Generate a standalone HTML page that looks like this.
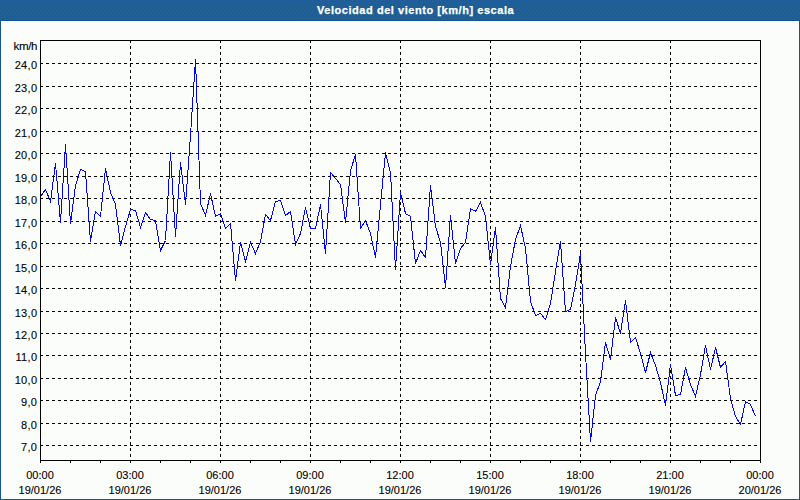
<!DOCTYPE html>
<html><head><meta charset="utf-8"><style>
html,body{margin:0;padding:0;}
body{-webkit-text-stroke:0.1px #000;width:800px;height:500px;position:relative;overflow:hidden;background:#14568e;font-family:"Liberation Sans",sans-serif;}
#tb{position:absolute;left:0;top:0;width:800px;height:21px;background:#1e5e93;}
#title{position:absolute;left:317px;top:3px;font-size:11px;font-weight:bold;color:#fff;-webkit-text-stroke:0.25px #fff;white-space:nowrap;line-height:14px;letter-spacing:0.55px;}
#pane{position:absolute;left:1px;top:21px;width:798px;height:478px;background:#fbfdfb;}
.yl{position:absolute;left:0;width:37.3px;letter-spacing:0.3px;text-align:right;font-size:11px;line-height:14px;color:#000;white-space:nowrap;}
.xl{position:absolute;top:468px;width:80px;text-align:center;font-size:11px;line-height:15px;color:#000;white-space:nowrap;}
#unit{position:absolute;left:13.6px;top:38.6px;font-size:11.6px;letter-spacing:-0.45px;line-height:14px;color:#000;}
svg{position:absolute;left:0;top:0;}
</style></head><body>
<div id="tb"><svg width="800" height="21" style="position:absolute;left:0;top:0"><defs><pattern id="dp" width="8" height="21" patternUnits="userSpaceOnUse"><g fill="#2860b6"><rect x="0" y="0" width="1" height="1"/><rect x="4" y="1" width="1" height="1"/><rect x="6" y="2" width="1" height="1"/><rect x="1" y="2" width="1" height="1"/><rect x="3" y="4" width="1" height="1"/><rect x="5" y="5" width="1" height="1"/><rect x="0" y="5" width="1" height="1"/><rect x="3" y="7" width="1" height="1"/><rect x="7" y="8" width="1" height="1"/><rect x="5" y="9" width="1" height="1"/><rect x="1" y="9" width="1" height="1"/><rect x="4" y="11" width="1" height="1"/><rect x="0" y="11" width="1" height="1"/><rect x="6" y="13" width="1" height="1"/><rect x="2" y="13" width="1" height="1"/><rect x="5" y="15" width="1" height="1"/><rect x="1" y="15" width="1" height="1"/><rect x="4" y="17" width="1" height="1"/><rect x="0" y="17" width="1" height="1"/><rect x="6" y="19" width="1" height="1"/><rect x="2" y="19" width="1" height="1"/></g></pattern></defs><rect width="800" height="20" fill="url(#dp)"/><rect y="20" width="800" height="1" fill="#125590"/></svg><div id="title">Velocidad del viento [km/h] escala</div></div>
<div id="pane"></div>
<svg width="800" height="500" viewBox="0 0 800 500">
<path d="M40 63.5H43M46 63.5H49M52 63.5H55M58 63.5H61M64 63.5H67M70 63.5H73M76 63.5H79M82 63.5H85M88 63.5H91M94 63.5H97M100 63.5H103M106 63.5H109M112 63.5H115M118 63.5H121M124 63.5H127M130 63.5H133M136 63.5H139M142 63.5H145M148 63.5H151M154 63.5H157M160 63.5H163M166 63.5H169M172 63.5H175M178 63.5H181M184 63.5H187M190 63.5H193M196 63.5H199M202 63.5H205M208 63.5H211M214 63.5H217M220 63.5H223M226 63.5H229M232 63.5H235M238 63.5H241M244 63.5H247M250 63.5H253M256 63.5H259M262 63.5H265M268 63.5H271M274 63.5H277M280 63.5H283M286 63.5H289M292 63.5H295M298 63.5H301M304 63.5H307M310 63.5H313M316 63.5H319M322 63.5H325M328 63.5H331M334 63.5H337M340 63.5H343M346 63.5H349M352 63.5H355M358 63.5H361M364 63.5H367M370 63.5H373M376 63.5H379M382 63.5H385M388 63.5H391M394 63.5H397M400 63.5H403M406 63.5H409M412 63.5H415M418 63.5H421M424 63.5H427M430 63.5H433M436 63.5H439M442 63.5H445M448 63.5H451M454 63.5H457M460 63.5H463M466 63.5H469M472 63.5H475M478 63.5H481M484 63.5H487M490 63.5H493M496 63.5H499M502 63.5H505M508 63.5H511M514 63.5H517M520 63.5H523M526 63.5H529M532 63.5H535M538 63.5H541M544 63.5H547M550 63.5H553M556 63.5H559M562 63.5H565M568 63.5H571M574 63.5H577M580 63.5H583M586 63.5H589M592 63.5H595M598 63.5H601M604 63.5H607M610 63.5H613M616 63.5H619M622 63.5H625M628 63.5H631M634 63.5H637M640 63.5H643M646 63.5H649M652 63.5H655M658 63.5H661M664 63.5H667M670 63.5H673M676 63.5H679M682 63.5H685M688 63.5H691M694 63.5H697M700 63.5H703M706 63.5H709M712 63.5H715M718 63.5H721M724 63.5H727M730 63.5H733M736 63.5H739M742 63.5H745M748 63.5H751M754 63.5H757M40 86.5H43M46 86.5H49M52 86.5H55M58 86.5H61M64 86.5H67M70 86.5H73M76 86.5H79M82 86.5H85M88 86.5H91M94 86.5H97M100 86.5H103M106 86.5H109M112 86.5H115M118 86.5H121M124 86.5H127M130 86.5H133M136 86.5H139M142 86.5H145M148 86.5H151M154 86.5H157M160 86.5H163M166 86.5H169M172 86.5H175M178 86.5H181M184 86.5H187M190 86.5H193M196 86.5H199M202 86.5H205M208 86.5H211M214 86.5H217M220 86.5H223M226 86.5H229M232 86.5H235M238 86.5H241M244 86.5H247M250 86.5H253M256 86.5H259M262 86.5H265M268 86.5H271M274 86.5H277M280 86.5H283M286 86.5H289M292 86.5H295M298 86.5H301M304 86.5H307M310 86.5H313M316 86.5H319M322 86.5H325M328 86.5H331M334 86.5H337M340 86.5H343M346 86.5H349M352 86.5H355M358 86.5H361M364 86.5H367M370 86.5H373M376 86.5H379M382 86.5H385M388 86.5H391M394 86.5H397M400 86.5H403M406 86.5H409M412 86.5H415M418 86.5H421M424 86.5H427M430 86.5H433M436 86.5H439M442 86.5H445M448 86.5H451M454 86.5H457M460 86.5H463M466 86.5H469M472 86.5H475M478 86.5H481M484 86.5H487M490 86.5H493M496 86.5H499M502 86.5H505M508 86.5H511M514 86.5H517M520 86.5H523M526 86.5H529M532 86.5H535M538 86.5H541M544 86.5H547M550 86.5H553M556 86.5H559M562 86.5H565M568 86.5H571M574 86.5H577M580 86.5H583M586 86.5H589M592 86.5H595M598 86.5H601M604 86.5H607M610 86.5H613M616 86.5H619M622 86.5H625M628 86.5H631M634 86.5H637M640 86.5H643M646 86.5H649M652 86.5H655M658 86.5H661M664 86.5H667M670 86.5H673M676 86.5H679M682 86.5H685M688 86.5H691M694 86.5H697M700 86.5H703M706 86.5H709M712 86.5H715M718 86.5H721M724 86.5H727M730 86.5H733M736 86.5H739M742 86.5H745M748 86.5H751M754 86.5H757M40 108.5H43M46 108.5H49M52 108.5H55M58 108.5H61M64 108.5H67M70 108.5H73M76 108.5H79M82 108.5H85M88 108.5H91M94 108.5H97M100 108.5H103M106 108.5H109M112 108.5H115M118 108.5H121M124 108.5H127M130 108.5H133M136 108.5H139M142 108.5H145M148 108.5H151M154 108.5H157M160 108.5H163M166 108.5H169M172 108.5H175M178 108.5H181M184 108.5H187M190 108.5H193M196 108.5H199M202 108.5H205M208 108.5H211M214 108.5H217M220 108.5H223M226 108.5H229M232 108.5H235M238 108.5H241M244 108.5H247M250 108.5H253M256 108.5H259M262 108.5H265M268 108.5H271M274 108.5H277M280 108.5H283M286 108.5H289M292 108.5H295M298 108.5H301M304 108.5H307M310 108.5H313M316 108.5H319M322 108.5H325M328 108.5H331M334 108.5H337M340 108.5H343M346 108.5H349M352 108.5H355M358 108.5H361M364 108.5H367M370 108.5H373M376 108.5H379M382 108.5H385M388 108.5H391M394 108.5H397M400 108.5H403M406 108.5H409M412 108.5H415M418 108.5H421M424 108.5H427M430 108.5H433M436 108.5H439M442 108.5H445M448 108.5H451M454 108.5H457M460 108.5H463M466 108.5H469M472 108.5H475M478 108.5H481M484 108.5H487M490 108.5H493M496 108.5H499M502 108.5H505M508 108.5H511M514 108.5H517M520 108.5H523M526 108.5H529M532 108.5H535M538 108.5H541M544 108.5H547M550 108.5H553M556 108.5H559M562 108.5H565M568 108.5H571M574 108.5H577M580 108.5H583M586 108.5H589M592 108.5H595M598 108.5H601M604 108.5H607M610 108.5H613M616 108.5H619M622 108.5H625M628 108.5H631M634 108.5H637M640 108.5H643M646 108.5H649M652 108.5H655M658 108.5H661M664 108.5H667M670 108.5H673M676 108.5H679M682 108.5H685M688 108.5H691M694 108.5H697M700 108.5H703M706 108.5H709M712 108.5H715M718 108.5H721M724 108.5H727M730 108.5H733M736 108.5H739M742 108.5H745M748 108.5H751M754 108.5H757M40 131.5H43M46 131.5H49M52 131.5H55M58 131.5H61M64 131.5H67M70 131.5H73M76 131.5H79M82 131.5H85M88 131.5H91M94 131.5H97M100 131.5H103M106 131.5H109M112 131.5H115M118 131.5H121M124 131.5H127M130 131.5H133M136 131.5H139M142 131.5H145M148 131.5H151M154 131.5H157M160 131.5H163M166 131.5H169M172 131.5H175M178 131.5H181M184 131.5H187M190 131.5H193M196 131.5H199M202 131.5H205M208 131.5H211M214 131.5H217M220 131.5H223M226 131.5H229M232 131.5H235M238 131.5H241M244 131.5H247M250 131.5H253M256 131.5H259M262 131.5H265M268 131.5H271M274 131.5H277M280 131.5H283M286 131.5H289M292 131.5H295M298 131.5H301M304 131.5H307M310 131.5H313M316 131.5H319M322 131.5H325M328 131.5H331M334 131.5H337M340 131.5H343M346 131.5H349M352 131.5H355M358 131.5H361M364 131.5H367M370 131.5H373M376 131.5H379M382 131.5H385M388 131.5H391M394 131.5H397M400 131.5H403M406 131.5H409M412 131.5H415M418 131.5H421M424 131.5H427M430 131.5H433M436 131.5H439M442 131.5H445M448 131.5H451M454 131.5H457M460 131.5H463M466 131.5H469M472 131.5H475M478 131.5H481M484 131.5H487M490 131.5H493M496 131.5H499M502 131.5H505M508 131.5H511M514 131.5H517M520 131.5H523M526 131.5H529M532 131.5H535M538 131.5H541M544 131.5H547M550 131.5H553M556 131.5H559M562 131.5H565M568 131.5H571M574 131.5H577M580 131.5H583M586 131.5H589M592 131.5H595M598 131.5H601M604 131.5H607M610 131.5H613M616 131.5H619M622 131.5H625M628 131.5H631M634 131.5H637M640 131.5H643M646 131.5H649M652 131.5H655M658 131.5H661M664 131.5H667M670 131.5H673M676 131.5H679M682 131.5H685M688 131.5H691M694 131.5H697M700 131.5H703M706 131.5H709M712 131.5H715M718 131.5H721M724 131.5H727M730 131.5H733M736 131.5H739M742 131.5H745M748 131.5H751M754 131.5H757M40 153.5H43M46 153.5H49M52 153.5H55M58 153.5H61M64 153.5H67M70 153.5H73M76 153.5H79M82 153.5H85M88 153.5H91M94 153.5H97M100 153.5H103M106 153.5H109M112 153.5H115M118 153.5H121M124 153.5H127M130 153.5H133M136 153.5H139M142 153.5H145M148 153.5H151M154 153.5H157M160 153.5H163M166 153.5H169M172 153.5H175M178 153.5H181M184 153.5H187M190 153.5H193M196 153.5H199M202 153.5H205M208 153.5H211M214 153.5H217M220 153.5H223M226 153.5H229M232 153.5H235M238 153.5H241M244 153.5H247M250 153.5H253M256 153.5H259M262 153.5H265M268 153.5H271M274 153.5H277M280 153.5H283M286 153.5H289M292 153.5H295M298 153.5H301M304 153.5H307M310 153.5H313M316 153.5H319M322 153.5H325M328 153.5H331M334 153.5H337M340 153.5H343M346 153.5H349M352 153.5H355M358 153.5H361M364 153.5H367M370 153.5H373M376 153.5H379M382 153.5H385M388 153.5H391M394 153.5H397M400 153.5H403M406 153.5H409M412 153.5H415M418 153.5H421M424 153.5H427M430 153.5H433M436 153.5H439M442 153.5H445M448 153.5H451M454 153.5H457M460 153.5H463M466 153.5H469M472 153.5H475M478 153.5H481M484 153.5H487M490 153.5H493M496 153.5H499M502 153.5H505M508 153.5H511M514 153.5H517M520 153.5H523M526 153.5H529M532 153.5H535M538 153.5H541M544 153.5H547M550 153.5H553M556 153.5H559M562 153.5H565M568 153.5H571M574 153.5H577M580 153.5H583M586 153.5H589M592 153.5H595M598 153.5H601M604 153.5H607M610 153.5H613M616 153.5H619M622 153.5H625M628 153.5H631M634 153.5H637M640 153.5H643M646 153.5H649M652 153.5H655M658 153.5H661M664 153.5H667M670 153.5H673M676 153.5H679M682 153.5H685M688 153.5H691M694 153.5H697M700 153.5H703M706 153.5H709M712 153.5H715M718 153.5H721M724 153.5H727M730 153.5H733M736 153.5H739M742 153.5H745M748 153.5H751M754 153.5H757M40 176.5H43M46 176.5H49M52 176.5H55M58 176.5H61M64 176.5H67M70 176.5H73M76 176.5H79M82 176.5H85M88 176.5H91M94 176.5H97M100 176.5H103M106 176.5H109M112 176.5H115M118 176.5H121M124 176.5H127M130 176.5H133M136 176.5H139M142 176.5H145M148 176.5H151M154 176.5H157M160 176.5H163M166 176.5H169M172 176.5H175M178 176.5H181M184 176.5H187M190 176.5H193M196 176.5H199M202 176.5H205M208 176.5H211M214 176.5H217M220 176.5H223M226 176.5H229M232 176.5H235M238 176.5H241M244 176.5H247M250 176.5H253M256 176.5H259M262 176.5H265M268 176.5H271M274 176.5H277M280 176.5H283M286 176.5H289M292 176.5H295M298 176.5H301M304 176.5H307M310 176.5H313M316 176.5H319M322 176.5H325M328 176.5H331M334 176.5H337M340 176.5H343M346 176.5H349M352 176.5H355M358 176.5H361M364 176.5H367M370 176.5H373M376 176.5H379M382 176.5H385M388 176.5H391M394 176.5H397M400 176.5H403M406 176.5H409M412 176.5H415M418 176.5H421M424 176.5H427M430 176.5H433M436 176.5H439M442 176.5H445M448 176.5H451M454 176.5H457M460 176.5H463M466 176.5H469M472 176.5H475M478 176.5H481M484 176.5H487M490 176.5H493M496 176.5H499M502 176.5H505M508 176.5H511M514 176.5H517M520 176.5H523M526 176.5H529M532 176.5H535M538 176.5H541M544 176.5H547M550 176.5H553M556 176.5H559M562 176.5H565M568 176.5H571M574 176.5H577M580 176.5H583M586 176.5H589M592 176.5H595M598 176.5H601M604 176.5H607M610 176.5H613M616 176.5H619M622 176.5H625M628 176.5H631M634 176.5H637M640 176.5H643M646 176.5H649M652 176.5H655M658 176.5H661M664 176.5H667M670 176.5H673M676 176.5H679M682 176.5H685M688 176.5H691M694 176.5H697M700 176.5H703M706 176.5H709M712 176.5H715M718 176.5H721M724 176.5H727M730 176.5H733M736 176.5H739M742 176.5H745M748 176.5H751M754 176.5H757M40 198.5H43M46 198.5H49M52 198.5H55M58 198.5H61M64 198.5H67M70 198.5H73M76 198.5H79M82 198.5H85M88 198.5H91M94 198.5H97M100 198.5H103M106 198.5H109M112 198.5H115M118 198.5H121M124 198.5H127M130 198.5H133M136 198.5H139M142 198.5H145M148 198.5H151M154 198.5H157M160 198.5H163M166 198.5H169M172 198.5H175M178 198.5H181M184 198.5H187M190 198.5H193M196 198.5H199M202 198.5H205M208 198.5H211M214 198.5H217M220 198.5H223M226 198.5H229M232 198.5H235M238 198.5H241M244 198.5H247M250 198.5H253M256 198.5H259M262 198.5H265M268 198.5H271M274 198.5H277M280 198.5H283M286 198.5H289M292 198.5H295M298 198.5H301M304 198.5H307M310 198.5H313M316 198.5H319M322 198.5H325M328 198.5H331M334 198.5H337M340 198.5H343M346 198.5H349M352 198.5H355M358 198.5H361M364 198.5H367M370 198.5H373M376 198.5H379M382 198.5H385M388 198.5H391M394 198.5H397M400 198.5H403M406 198.5H409M412 198.5H415M418 198.5H421M424 198.5H427M430 198.5H433M436 198.5H439M442 198.5H445M448 198.5H451M454 198.5H457M460 198.5H463M466 198.5H469M472 198.5H475M478 198.5H481M484 198.5H487M490 198.5H493M496 198.5H499M502 198.5H505M508 198.5H511M514 198.5H517M520 198.5H523M526 198.5H529M532 198.5H535M538 198.5H541M544 198.5H547M550 198.5H553M556 198.5H559M562 198.5H565M568 198.5H571M574 198.5H577M580 198.5H583M586 198.5H589M592 198.5H595M598 198.5H601M604 198.5H607M610 198.5H613M616 198.5H619M622 198.5H625M628 198.5H631M634 198.5H637M640 198.5H643M646 198.5H649M652 198.5H655M658 198.5H661M664 198.5H667M670 198.5H673M676 198.5H679M682 198.5H685M688 198.5H691M694 198.5H697M700 198.5H703M706 198.5H709M712 198.5H715M718 198.5H721M724 198.5H727M730 198.5H733M736 198.5H739M742 198.5H745M748 198.5H751M754 198.5H757M40 221.5H43M46 221.5H49M52 221.5H55M58 221.5H61M64 221.5H67M70 221.5H73M76 221.5H79M82 221.5H85M88 221.5H91M94 221.5H97M100 221.5H103M106 221.5H109M112 221.5H115M118 221.5H121M124 221.5H127M130 221.5H133M136 221.5H139M142 221.5H145M148 221.5H151M154 221.5H157M160 221.5H163M166 221.5H169M172 221.5H175M178 221.5H181M184 221.5H187M190 221.5H193M196 221.5H199M202 221.5H205M208 221.5H211M214 221.5H217M220 221.5H223M226 221.5H229M232 221.5H235M238 221.5H241M244 221.5H247M250 221.5H253M256 221.5H259M262 221.5H265M268 221.5H271M274 221.5H277M280 221.5H283M286 221.5H289M292 221.5H295M298 221.5H301M304 221.5H307M310 221.5H313M316 221.5H319M322 221.5H325M328 221.5H331M334 221.5H337M340 221.5H343M346 221.5H349M352 221.5H355M358 221.5H361M364 221.5H367M370 221.5H373M376 221.5H379M382 221.5H385M388 221.5H391M394 221.5H397M400 221.5H403M406 221.5H409M412 221.5H415M418 221.5H421M424 221.5H427M430 221.5H433M436 221.5H439M442 221.5H445M448 221.5H451M454 221.5H457M460 221.5H463M466 221.5H469M472 221.5H475M478 221.5H481M484 221.5H487M490 221.5H493M496 221.5H499M502 221.5H505M508 221.5H511M514 221.5H517M520 221.5H523M526 221.5H529M532 221.5H535M538 221.5H541M544 221.5H547M550 221.5H553M556 221.5H559M562 221.5H565M568 221.5H571M574 221.5H577M580 221.5H583M586 221.5H589M592 221.5H595M598 221.5H601M604 221.5H607M610 221.5H613M616 221.5H619M622 221.5H625M628 221.5H631M634 221.5H637M640 221.5H643M646 221.5H649M652 221.5H655M658 221.5H661M664 221.5H667M670 221.5H673M676 221.5H679M682 221.5H685M688 221.5H691M694 221.5H697M700 221.5H703M706 221.5H709M712 221.5H715M718 221.5H721M724 221.5H727M730 221.5H733M736 221.5H739M742 221.5H745M748 221.5H751M754 221.5H757M40 243.5H43M46 243.5H49M52 243.5H55M58 243.5H61M64 243.5H67M70 243.5H73M76 243.5H79M82 243.5H85M88 243.5H91M94 243.5H97M100 243.5H103M106 243.5H109M112 243.5H115M118 243.5H121M124 243.5H127M130 243.5H133M136 243.5H139M142 243.5H145M148 243.5H151M154 243.5H157M160 243.5H163M166 243.5H169M172 243.5H175M178 243.5H181M184 243.5H187M190 243.5H193M196 243.5H199M202 243.5H205M208 243.5H211M214 243.5H217M220 243.5H223M226 243.5H229M232 243.5H235M238 243.5H241M244 243.5H247M250 243.5H253M256 243.5H259M262 243.5H265M268 243.5H271M274 243.5H277M280 243.5H283M286 243.5H289M292 243.5H295M298 243.5H301M304 243.5H307M310 243.5H313M316 243.5H319M322 243.5H325M328 243.5H331M334 243.5H337M340 243.5H343M346 243.5H349M352 243.5H355M358 243.5H361M364 243.5H367M370 243.5H373M376 243.5H379M382 243.5H385M388 243.5H391M394 243.5H397M400 243.5H403M406 243.5H409M412 243.5H415M418 243.5H421M424 243.5H427M430 243.5H433M436 243.5H439M442 243.5H445M448 243.5H451M454 243.5H457M460 243.5H463M466 243.5H469M472 243.5H475M478 243.5H481M484 243.5H487M490 243.5H493M496 243.5H499M502 243.5H505M508 243.5H511M514 243.5H517M520 243.5H523M526 243.5H529M532 243.5H535M538 243.5H541M544 243.5H547M550 243.5H553M556 243.5H559M562 243.5H565M568 243.5H571M574 243.5H577M580 243.5H583M586 243.5H589M592 243.5H595M598 243.5H601M604 243.5H607M610 243.5H613M616 243.5H619M622 243.5H625M628 243.5H631M634 243.5H637M640 243.5H643M646 243.5H649M652 243.5H655M658 243.5H661M664 243.5H667M670 243.5H673M676 243.5H679M682 243.5H685M688 243.5H691M694 243.5H697M700 243.5H703M706 243.5H709M712 243.5H715M718 243.5H721M724 243.5H727M730 243.5H733M736 243.5H739M742 243.5H745M748 243.5H751M754 243.5H757M40 266.5H43M46 266.5H49M52 266.5H55M58 266.5H61M64 266.5H67M70 266.5H73M76 266.5H79M82 266.5H85M88 266.5H91M94 266.5H97M100 266.5H103M106 266.5H109M112 266.5H115M118 266.5H121M124 266.5H127M130 266.5H133M136 266.5H139M142 266.5H145M148 266.5H151M154 266.5H157M160 266.5H163M166 266.5H169M172 266.5H175M178 266.5H181M184 266.5H187M190 266.5H193M196 266.5H199M202 266.5H205M208 266.5H211M214 266.5H217M220 266.5H223M226 266.5H229M232 266.5H235M238 266.5H241M244 266.5H247M250 266.5H253M256 266.5H259M262 266.5H265M268 266.5H271M274 266.5H277M280 266.5H283M286 266.5H289M292 266.5H295M298 266.5H301M304 266.5H307M310 266.5H313M316 266.5H319M322 266.5H325M328 266.5H331M334 266.5H337M340 266.5H343M346 266.5H349M352 266.5H355M358 266.5H361M364 266.5H367M370 266.5H373M376 266.5H379M382 266.5H385M388 266.5H391M394 266.5H397M400 266.5H403M406 266.5H409M412 266.5H415M418 266.5H421M424 266.5H427M430 266.5H433M436 266.5H439M442 266.5H445M448 266.5H451M454 266.5H457M460 266.5H463M466 266.5H469M472 266.5H475M478 266.5H481M484 266.5H487M490 266.5H493M496 266.5H499M502 266.5H505M508 266.5H511M514 266.5H517M520 266.5H523M526 266.5H529M532 266.5H535M538 266.5H541M544 266.5H547M550 266.5H553M556 266.5H559M562 266.5H565M568 266.5H571M574 266.5H577M580 266.5H583M586 266.5H589M592 266.5H595M598 266.5H601M604 266.5H607M610 266.5H613M616 266.5H619M622 266.5H625M628 266.5H631M634 266.5H637M640 266.5H643M646 266.5H649M652 266.5H655M658 266.5H661M664 266.5H667M670 266.5H673M676 266.5H679M682 266.5H685M688 266.5H691M694 266.5H697M700 266.5H703M706 266.5H709M712 266.5H715M718 266.5H721M724 266.5H727M730 266.5H733M736 266.5H739M742 266.5H745M748 266.5H751M754 266.5H757M40 288.5H43M46 288.5H49M52 288.5H55M58 288.5H61M64 288.5H67M70 288.5H73M76 288.5H79M82 288.5H85M88 288.5H91M94 288.5H97M100 288.5H103M106 288.5H109M112 288.5H115M118 288.5H121M124 288.5H127M130 288.5H133M136 288.5H139M142 288.5H145M148 288.5H151M154 288.5H157M160 288.5H163M166 288.5H169M172 288.5H175M178 288.5H181M184 288.5H187M190 288.5H193M196 288.5H199M202 288.5H205M208 288.5H211M214 288.5H217M220 288.5H223M226 288.5H229M232 288.5H235M238 288.5H241M244 288.5H247M250 288.5H253M256 288.5H259M262 288.5H265M268 288.5H271M274 288.5H277M280 288.5H283M286 288.5H289M292 288.5H295M298 288.5H301M304 288.5H307M310 288.5H313M316 288.5H319M322 288.5H325M328 288.5H331M334 288.5H337M340 288.5H343M346 288.5H349M352 288.5H355M358 288.5H361M364 288.5H367M370 288.5H373M376 288.5H379M382 288.5H385M388 288.5H391M394 288.5H397M400 288.5H403M406 288.5H409M412 288.5H415M418 288.5H421M424 288.5H427M430 288.5H433M436 288.5H439M442 288.5H445M448 288.5H451M454 288.5H457M460 288.5H463M466 288.5H469M472 288.5H475M478 288.5H481M484 288.5H487M490 288.5H493M496 288.5H499M502 288.5H505M508 288.5H511M514 288.5H517M520 288.5H523M526 288.5H529M532 288.5H535M538 288.5H541M544 288.5H547M550 288.5H553M556 288.5H559M562 288.5H565M568 288.5H571M574 288.5H577M580 288.5H583M586 288.5H589M592 288.5H595M598 288.5H601M604 288.5H607M610 288.5H613M616 288.5H619M622 288.5H625M628 288.5H631M634 288.5H637M640 288.5H643M646 288.5H649M652 288.5H655M658 288.5H661M664 288.5H667M670 288.5H673M676 288.5H679M682 288.5H685M688 288.5H691M694 288.5H697M700 288.5H703M706 288.5H709M712 288.5H715M718 288.5H721M724 288.5H727M730 288.5H733M736 288.5H739M742 288.5H745M748 288.5H751M754 288.5H757M40 311.5H43M46 311.5H49M52 311.5H55M58 311.5H61M64 311.5H67M70 311.5H73M76 311.5H79M82 311.5H85M88 311.5H91M94 311.5H97M100 311.5H103M106 311.5H109M112 311.5H115M118 311.5H121M124 311.5H127M130 311.5H133M136 311.5H139M142 311.5H145M148 311.5H151M154 311.5H157M160 311.5H163M166 311.5H169M172 311.5H175M178 311.5H181M184 311.5H187M190 311.5H193M196 311.5H199M202 311.5H205M208 311.5H211M214 311.5H217M220 311.5H223M226 311.5H229M232 311.5H235M238 311.5H241M244 311.5H247M250 311.5H253M256 311.5H259M262 311.5H265M268 311.5H271M274 311.5H277M280 311.5H283M286 311.5H289M292 311.5H295M298 311.5H301M304 311.5H307M310 311.5H313M316 311.5H319M322 311.5H325M328 311.5H331M334 311.5H337M340 311.5H343M346 311.5H349M352 311.5H355M358 311.5H361M364 311.5H367M370 311.5H373M376 311.5H379M382 311.5H385M388 311.5H391M394 311.5H397M400 311.5H403M406 311.5H409M412 311.5H415M418 311.5H421M424 311.5H427M430 311.5H433M436 311.5H439M442 311.5H445M448 311.5H451M454 311.5H457M460 311.5H463M466 311.5H469M472 311.5H475M478 311.5H481M484 311.5H487M490 311.5H493M496 311.5H499M502 311.5H505M508 311.5H511M514 311.5H517M520 311.5H523M526 311.5H529M532 311.5H535M538 311.5H541M544 311.5H547M550 311.5H553M556 311.5H559M562 311.5H565M568 311.5H571M574 311.5H577M580 311.5H583M586 311.5H589M592 311.5H595M598 311.5H601M604 311.5H607M610 311.5H613M616 311.5H619M622 311.5H625M628 311.5H631M634 311.5H637M640 311.5H643M646 311.5H649M652 311.5H655M658 311.5H661M664 311.5H667M670 311.5H673M676 311.5H679M682 311.5H685M688 311.5H691M694 311.5H697M700 311.5H703M706 311.5H709M712 311.5H715M718 311.5H721M724 311.5H727M730 311.5H733M736 311.5H739M742 311.5H745M748 311.5H751M754 311.5H757M40 333.5H43M46 333.5H49M52 333.5H55M58 333.5H61M64 333.5H67M70 333.5H73M76 333.5H79M82 333.5H85M88 333.5H91M94 333.5H97M100 333.5H103M106 333.5H109M112 333.5H115M118 333.5H121M124 333.5H127M130 333.5H133M136 333.5H139M142 333.5H145M148 333.5H151M154 333.5H157M160 333.5H163M166 333.5H169M172 333.5H175M178 333.5H181M184 333.5H187M190 333.5H193M196 333.5H199M202 333.5H205M208 333.5H211M214 333.5H217M220 333.5H223M226 333.5H229M232 333.5H235M238 333.5H241M244 333.5H247M250 333.5H253M256 333.5H259M262 333.5H265M268 333.5H271M274 333.5H277M280 333.5H283M286 333.5H289M292 333.5H295M298 333.5H301M304 333.5H307M310 333.5H313M316 333.5H319M322 333.5H325M328 333.5H331M334 333.5H337M340 333.5H343M346 333.5H349M352 333.5H355M358 333.5H361M364 333.5H367M370 333.5H373M376 333.5H379M382 333.5H385M388 333.5H391M394 333.5H397M400 333.5H403M406 333.5H409M412 333.5H415M418 333.5H421M424 333.5H427M430 333.5H433M436 333.5H439M442 333.5H445M448 333.5H451M454 333.5H457M460 333.5H463M466 333.5H469M472 333.5H475M478 333.5H481M484 333.5H487M490 333.5H493M496 333.5H499M502 333.5H505M508 333.5H511M514 333.5H517M520 333.5H523M526 333.5H529M532 333.5H535M538 333.5H541M544 333.5H547M550 333.5H553M556 333.5H559M562 333.5H565M568 333.5H571M574 333.5H577M580 333.5H583M586 333.5H589M592 333.5H595M598 333.5H601M604 333.5H607M610 333.5H613M616 333.5H619M622 333.5H625M628 333.5H631M634 333.5H637M640 333.5H643M646 333.5H649M652 333.5H655M658 333.5H661M664 333.5H667M670 333.5H673M676 333.5H679M682 333.5H685M688 333.5H691M694 333.5H697M700 333.5H703M706 333.5H709M712 333.5H715M718 333.5H721M724 333.5H727M730 333.5H733M736 333.5H739M742 333.5H745M748 333.5H751M754 333.5H757M40 355.5H43M46 355.5H49M52 355.5H55M58 355.5H61M64 355.5H67M70 355.5H73M76 355.5H79M82 355.5H85M88 355.5H91M94 355.5H97M100 355.5H103M106 355.5H109M112 355.5H115M118 355.5H121M124 355.5H127M130 355.5H133M136 355.5H139M142 355.5H145M148 355.5H151M154 355.5H157M160 355.5H163M166 355.5H169M172 355.5H175M178 355.5H181M184 355.5H187M190 355.5H193M196 355.5H199M202 355.5H205M208 355.5H211M214 355.5H217M220 355.5H223M226 355.5H229M232 355.5H235M238 355.5H241M244 355.5H247M250 355.5H253M256 355.5H259M262 355.5H265M268 355.5H271M274 355.5H277M280 355.5H283M286 355.5H289M292 355.5H295M298 355.5H301M304 355.5H307M310 355.5H313M316 355.5H319M322 355.5H325M328 355.5H331M334 355.5H337M340 355.5H343M346 355.5H349M352 355.5H355M358 355.5H361M364 355.5H367M370 355.5H373M376 355.5H379M382 355.5H385M388 355.5H391M394 355.5H397M400 355.5H403M406 355.5H409M412 355.5H415M418 355.5H421M424 355.5H427M430 355.5H433M436 355.5H439M442 355.5H445M448 355.5H451M454 355.5H457M460 355.5H463M466 355.5H469M472 355.5H475M478 355.5H481M484 355.5H487M490 355.5H493M496 355.5H499M502 355.5H505M508 355.5H511M514 355.5H517M520 355.5H523M526 355.5H529M532 355.5H535M538 355.5H541M544 355.5H547M550 355.5H553M556 355.5H559M562 355.5H565M568 355.5H571M574 355.5H577M580 355.5H583M586 355.5H589M592 355.5H595M598 355.5H601M604 355.5H607M610 355.5H613M616 355.5H619M622 355.5H625M628 355.5H631M634 355.5H637M640 355.5H643M646 355.5H649M652 355.5H655M658 355.5H661M664 355.5H667M670 355.5H673M676 355.5H679M682 355.5H685M688 355.5H691M694 355.5H697M700 355.5H703M706 355.5H709M712 355.5H715M718 355.5H721M724 355.5H727M730 355.5H733M736 355.5H739M742 355.5H745M748 355.5H751M754 355.5H757M40 378.5H43M46 378.5H49M52 378.5H55M58 378.5H61M64 378.5H67M70 378.5H73M76 378.5H79M82 378.5H85M88 378.5H91M94 378.5H97M100 378.5H103M106 378.5H109M112 378.5H115M118 378.5H121M124 378.5H127M130 378.5H133M136 378.5H139M142 378.5H145M148 378.5H151M154 378.5H157M160 378.5H163M166 378.5H169M172 378.5H175M178 378.5H181M184 378.5H187M190 378.5H193M196 378.5H199M202 378.5H205M208 378.5H211M214 378.5H217M220 378.5H223M226 378.5H229M232 378.5H235M238 378.5H241M244 378.5H247M250 378.5H253M256 378.5H259M262 378.5H265M268 378.5H271M274 378.5H277M280 378.5H283M286 378.5H289M292 378.5H295M298 378.5H301M304 378.5H307M310 378.5H313M316 378.5H319M322 378.5H325M328 378.5H331M334 378.5H337M340 378.5H343M346 378.5H349M352 378.5H355M358 378.5H361M364 378.5H367M370 378.5H373M376 378.5H379M382 378.5H385M388 378.5H391M394 378.5H397M400 378.5H403M406 378.5H409M412 378.5H415M418 378.5H421M424 378.5H427M430 378.5H433M436 378.5H439M442 378.5H445M448 378.5H451M454 378.5H457M460 378.5H463M466 378.5H469M472 378.5H475M478 378.5H481M484 378.5H487M490 378.5H493M496 378.5H499M502 378.5H505M508 378.5H511M514 378.5H517M520 378.5H523M526 378.5H529M532 378.5H535M538 378.5H541M544 378.5H547M550 378.5H553M556 378.5H559M562 378.5H565M568 378.5H571M574 378.5H577M580 378.5H583M586 378.5H589M592 378.5H595M598 378.5H601M604 378.5H607M610 378.5H613M616 378.5H619M622 378.5H625M628 378.5H631M634 378.5H637M640 378.5H643M646 378.5H649M652 378.5H655M658 378.5H661M664 378.5H667M670 378.5H673M676 378.5H679M682 378.5H685M688 378.5H691M694 378.5H697M700 378.5H703M706 378.5H709M712 378.5H715M718 378.5H721M724 378.5H727M730 378.5H733M736 378.5H739M742 378.5H745M748 378.5H751M754 378.5H757M40 400.5H43M46 400.5H49M52 400.5H55M58 400.5H61M64 400.5H67M70 400.5H73M76 400.5H79M82 400.5H85M88 400.5H91M94 400.5H97M100 400.5H103M106 400.5H109M112 400.5H115M118 400.5H121M124 400.5H127M130 400.5H133M136 400.5H139M142 400.5H145M148 400.5H151M154 400.5H157M160 400.5H163M166 400.5H169M172 400.5H175M178 400.5H181M184 400.5H187M190 400.5H193M196 400.5H199M202 400.5H205M208 400.5H211M214 400.5H217M220 400.5H223M226 400.5H229M232 400.5H235M238 400.5H241M244 400.5H247M250 400.5H253M256 400.5H259M262 400.5H265M268 400.5H271M274 400.5H277M280 400.5H283M286 400.5H289M292 400.5H295M298 400.5H301M304 400.5H307M310 400.5H313M316 400.5H319M322 400.5H325M328 400.5H331M334 400.5H337M340 400.5H343M346 400.5H349M352 400.5H355M358 400.5H361M364 400.5H367M370 400.5H373M376 400.5H379M382 400.5H385M388 400.5H391M394 400.5H397M400 400.5H403M406 400.5H409M412 400.5H415M418 400.5H421M424 400.5H427M430 400.5H433M436 400.5H439M442 400.5H445M448 400.5H451M454 400.5H457M460 400.5H463M466 400.5H469M472 400.5H475M478 400.5H481M484 400.5H487M490 400.5H493M496 400.5H499M502 400.5H505M508 400.5H511M514 400.5H517M520 400.5H523M526 400.5H529M532 400.5H535M538 400.5H541M544 400.5H547M550 400.5H553M556 400.5H559M562 400.5H565M568 400.5H571M574 400.5H577M580 400.5H583M586 400.5H589M592 400.5H595M598 400.5H601M604 400.5H607M610 400.5H613M616 400.5H619M622 400.5H625M628 400.5H631M634 400.5H637M640 400.5H643M646 400.5H649M652 400.5H655M658 400.5H661M664 400.5H667M670 400.5H673M676 400.5H679M682 400.5H685M688 400.5H691M694 400.5H697M700 400.5H703M706 400.5H709M712 400.5H715M718 400.5H721M724 400.5H727M730 400.5H733M736 400.5H739M742 400.5H745M748 400.5H751M754 400.5H757M40 423.5H43M46 423.5H49M52 423.5H55M58 423.5H61M64 423.5H67M70 423.5H73M76 423.5H79M82 423.5H85M88 423.5H91M94 423.5H97M100 423.5H103M106 423.5H109M112 423.5H115M118 423.5H121M124 423.5H127M130 423.5H133M136 423.5H139M142 423.5H145M148 423.5H151M154 423.5H157M160 423.5H163M166 423.5H169M172 423.5H175M178 423.5H181M184 423.5H187M190 423.5H193M196 423.5H199M202 423.5H205M208 423.5H211M214 423.5H217M220 423.5H223M226 423.5H229M232 423.5H235M238 423.5H241M244 423.5H247M250 423.5H253M256 423.5H259M262 423.5H265M268 423.5H271M274 423.5H277M280 423.5H283M286 423.5H289M292 423.5H295M298 423.5H301M304 423.5H307M310 423.5H313M316 423.5H319M322 423.5H325M328 423.5H331M334 423.5H337M340 423.5H343M346 423.5H349M352 423.5H355M358 423.5H361M364 423.5H367M370 423.5H373M376 423.5H379M382 423.5H385M388 423.5H391M394 423.5H397M400 423.5H403M406 423.5H409M412 423.5H415M418 423.5H421M424 423.5H427M430 423.5H433M436 423.5H439M442 423.5H445M448 423.5H451M454 423.5H457M460 423.5H463M466 423.5H469M472 423.5H475M478 423.5H481M484 423.5H487M490 423.5H493M496 423.5H499M502 423.5H505M508 423.5H511M514 423.5H517M520 423.5H523M526 423.5H529M532 423.5H535M538 423.5H541M544 423.5H547M550 423.5H553M556 423.5H559M562 423.5H565M568 423.5H571M574 423.5H577M580 423.5H583M586 423.5H589M592 423.5H595M598 423.5H601M604 423.5H607M610 423.5H613M616 423.5H619M622 423.5H625M628 423.5H631M634 423.5H637M640 423.5H643M646 423.5H649M652 423.5H655M658 423.5H661M664 423.5H667M670 423.5H673M676 423.5H679M682 423.5H685M688 423.5H691M694 423.5H697M700 423.5H703M706 423.5H709M712 423.5H715M718 423.5H721M724 423.5H727M730 423.5H733M736 423.5H739M742 423.5H745M748 423.5H751M754 423.5H757M40 445.5H43M46 445.5H49M52 445.5H55M58 445.5H61M64 445.5H67M70 445.5H73M76 445.5H79M82 445.5H85M88 445.5H91M94 445.5H97M100 445.5H103M106 445.5H109M112 445.5H115M118 445.5H121M124 445.5H127M130 445.5H133M136 445.5H139M142 445.5H145M148 445.5H151M154 445.5H157M160 445.5H163M166 445.5H169M172 445.5H175M178 445.5H181M184 445.5H187M190 445.5H193M196 445.5H199M202 445.5H205M208 445.5H211M214 445.5H217M220 445.5H223M226 445.5H229M232 445.5H235M238 445.5H241M244 445.5H247M250 445.5H253M256 445.5H259M262 445.5H265M268 445.5H271M274 445.5H277M280 445.5H283M286 445.5H289M292 445.5H295M298 445.5H301M304 445.5H307M310 445.5H313M316 445.5H319M322 445.5H325M328 445.5H331M334 445.5H337M340 445.5H343M346 445.5H349M352 445.5H355M358 445.5H361M364 445.5H367M370 445.5H373M376 445.5H379M382 445.5H385M388 445.5H391M394 445.5H397M400 445.5H403M406 445.5H409M412 445.5H415M418 445.5H421M424 445.5H427M430 445.5H433M436 445.5H439M442 445.5H445M448 445.5H451M454 445.5H457M460 445.5H463M466 445.5H469M472 445.5H475M478 445.5H481M484 445.5H487M490 445.5H493M496 445.5H499M502 445.5H505M508 445.5H511M514 445.5H517M520 445.5H523M526 445.5H529M532 445.5H535M538 445.5H541M544 445.5H547M550 445.5H553M556 445.5H559M562 445.5H565M568 445.5H571M574 445.5H577M580 445.5H583M586 445.5H589M592 445.5H595M598 445.5H601M604 445.5H607M610 445.5H613M616 445.5H619M622 445.5H625M628 445.5H631M634 445.5H637M640 445.5H643M646 445.5H649M652 445.5H655M658 445.5H661M664 445.5H667M670 445.5H673M676 445.5H679M682 445.5H685M688 445.5H691M694 445.5H697M700 445.5H703M706 445.5H709M712 445.5H715M718 445.5H721M724 445.5H727M730 445.5H733M736 445.5H739M742 445.5H745M748 445.5H751M754 445.5H757M130.5 40V43M130.5 46V49M130.5 52V55M130.5 58V61M130.5 64V67M130.5 70V73M130.5 76V79M130.5 82V85M130.5 88V91M130.5 94V97M130.5 100V103M130.5 106V109M130.5 112V115M130.5 118V121M130.5 124V127M130.5 130V133M130.5 136V139M130.5 142V145M130.5 148V151M130.5 154V157M130.5 160V163M130.5 166V169M130.5 172V175M130.5 178V181M130.5 184V187M130.5 190V193M130.5 196V199M130.5 202V205M130.5 208V211M130.5 214V217M130.5 220V223M130.5 226V229M130.5 232V235M130.5 238V241M130.5 244V247M130.5 250V253M130.5 256V259M130.5 262V265M130.5 268V271M130.5 274V277M130.5 280V283M130.5 286V289M130.5 292V295M130.5 298V301M130.5 304V307M130.5 310V313M130.5 316V319M130.5 322V325M130.5 328V331M130.5 334V337M130.5 340V343M130.5 346V349M130.5 352V355M130.5 358V361M130.5 364V367M130.5 370V373M130.5 376V379M130.5 382V385M130.5 388V391M130.5 394V397M130.5 400V403M130.5 406V409M130.5 412V415M130.5 418V421M130.5 424V427M130.5 430V433M130.5 436V439M130.5 442V445M130.5 448V451M130.5 454V457M220.5 40V43M220.5 46V49M220.5 52V55M220.5 58V61M220.5 64V67M220.5 70V73M220.5 76V79M220.5 82V85M220.5 88V91M220.5 94V97M220.5 100V103M220.5 106V109M220.5 112V115M220.5 118V121M220.5 124V127M220.5 130V133M220.5 136V139M220.5 142V145M220.5 148V151M220.5 154V157M220.5 160V163M220.5 166V169M220.5 172V175M220.5 178V181M220.5 184V187M220.5 190V193M220.5 196V199M220.5 202V205M220.5 208V211M220.5 214V217M220.5 220V223M220.5 226V229M220.5 232V235M220.5 238V241M220.5 244V247M220.5 250V253M220.5 256V259M220.5 262V265M220.5 268V271M220.5 274V277M220.5 280V283M220.5 286V289M220.5 292V295M220.5 298V301M220.5 304V307M220.5 310V313M220.5 316V319M220.5 322V325M220.5 328V331M220.5 334V337M220.5 340V343M220.5 346V349M220.5 352V355M220.5 358V361M220.5 364V367M220.5 370V373M220.5 376V379M220.5 382V385M220.5 388V391M220.5 394V397M220.5 400V403M220.5 406V409M220.5 412V415M220.5 418V421M220.5 424V427M220.5 430V433M220.5 436V439M220.5 442V445M220.5 448V451M220.5 454V457M310.5 40V43M310.5 46V49M310.5 52V55M310.5 58V61M310.5 64V67M310.5 70V73M310.5 76V79M310.5 82V85M310.5 88V91M310.5 94V97M310.5 100V103M310.5 106V109M310.5 112V115M310.5 118V121M310.5 124V127M310.5 130V133M310.5 136V139M310.5 142V145M310.5 148V151M310.5 154V157M310.5 160V163M310.5 166V169M310.5 172V175M310.5 178V181M310.5 184V187M310.5 190V193M310.5 196V199M310.5 202V205M310.5 208V211M310.5 214V217M310.5 220V223M310.5 226V229M310.5 232V235M310.5 238V241M310.5 244V247M310.5 250V253M310.5 256V259M310.5 262V265M310.5 268V271M310.5 274V277M310.5 280V283M310.5 286V289M310.5 292V295M310.5 298V301M310.5 304V307M310.5 310V313M310.5 316V319M310.5 322V325M310.5 328V331M310.5 334V337M310.5 340V343M310.5 346V349M310.5 352V355M310.5 358V361M310.5 364V367M310.5 370V373M310.5 376V379M310.5 382V385M310.5 388V391M310.5 394V397M310.5 400V403M310.5 406V409M310.5 412V415M310.5 418V421M310.5 424V427M310.5 430V433M310.5 436V439M310.5 442V445M310.5 448V451M310.5 454V457M400.5 40V43M400.5 46V49M400.5 52V55M400.5 58V61M400.5 64V67M400.5 70V73M400.5 76V79M400.5 82V85M400.5 88V91M400.5 94V97M400.5 100V103M400.5 106V109M400.5 112V115M400.5 118V121M400.5 124V127M400.5 130V133M400.5 136V139M400.5 142V145M400.5 148V151M400.5 154V157M400.5 160V163M400.5 166V169M400.5 172V175M400.5 178V181M400.5 184V187M400.5 190V193M400.5 196V199M400.5 202V205M400.5 208V211M400.5 214V217M400.5 220V223M400.5 226V229M400.5 232V235M400.5 238V241M400.5 244V247M400.5 250V253M400.5 256V259M400.5 262V265M400.5 268V271M400.5 274V277M400.5 280V283M400.5 286V289M400.5 292V295M400.5 298V301M400.5 304V307M400.5 310V313M400.5 316V319M400.5 322V325M400.5 328V331M400.5 334V337M400.5 340V343M400.5 346V349M400.5 352V355M400.5 358V361M400.5 364V367M400.5 370V373M400.5 376V379M400.5 382V385M400.5 388V391M400.5 394V397M400.5 400V403M400.5 406V409M400.5 412V415M400.5 418V421M400.5 424V427M400.5 430V433M400.5 436V439M400.5 442V445M400.5 448V451M400.5 454V457M490.5 40V43M490.5 46V49M490.5 52V55M490.5 58V61M490.5 64V67M490.5 70V73M490.5 76V79M490.5 82V85M490.5 88V91M490.5 94V97M490.5 100V103M490.5 106V109M490.5 112V115M490.5 118V121M490.5 124V127M490.5 130V133M490.5 136V139M490.5 142V145M490.5 148V151M490.5 154V157M490.5 160V163M490.5 166V169M490.5 172V175M490.5 178V181M490.5 184V187M490.5 190V193M490.5 196V199M490.5 202V205M490.5 208V211M490.5 214V217M490.5 220V223M490.5 226V229M490.5 232V235M490.5 238V241M490.5 244V247M490.5 250V253M490.5 256V259M490.5 262V265M490.5 268V271M490.5 274V277M490.5 280V283M490.5 286V289M490.5 292V295M490.5 298V301M490.5 304V307M490.5 310V313M490.5 316V319M490.5 322V325M490.5 328V331M490.5 334V337M490.5 340V343M490.5 346V349M490.5 352V355M490.5 358V361M490.5 364V367M490.5 370V373M490.5 376V379M490.5 382V385M490.5 388V391M490.5 394V397M490.5 400V403M490.5 406V409M490.5 412V415M490.5 418V421M490.5 424V427M490.5 430V433M490.5 436V439M490.5 442V445M490.5 448V451M490.5 454V457M580.5 40V43M580.5 46V49M580.5 52V55M580.5 58V61M580.5 64V67M580.5 70V73M580.5 76V79M580.5 82V85M580.5 88V91M580.5 94V97M580.5 100V103M580.5 106V109M580.5 112V115M580.5 118V121M580.5 124V127M580.5 130V133M580.5 136V139M580.5 142V145M580.5 148V151M580.5 154V157M580.5 160V163M580.5 166V169M580.5 172V175M580.5 178V181M580.5 184V187M580.5 190V193M580.5 196V199M580.5 202V205M580.5 208V211M580.5 214V217M580.5 220V223M580.5 226V229M580.5 232V235M580.5 238V241M580.5 244V247M580.5 250V253M580.5 256V259M580.5 262V265M580.5 268V271M580.5 274V277M580.5 280V283M580.5 286V289M580.5 292V295M580.5 298V301M580.5 304V307M580.5 310V313M580.5 316V319M580.5 322V325M580.5 328V331M580.5 334V337M580.5 340V343M580.5 346V349M580.5 352V355M580.5 358V361M580.5 364V367M580.5 370V373M580.5 376V379M580.5 382V385M580.5 388V391M580.5 394V397M580.5 400V403M580.5 406V409M580.5 412V415M580.5 418V421M580.5 424V427M580.5 430V433M580.5 436V439M580.5 442V445M580.5 448V451M580.5 454V457M670.5 40V43M670.5 46V49M670.5 52V55M670.5 58V61M670.5 64V67M670.5 70V73M670.5 76V79M670.5 82V85M670.5 88V91M670.5 94V97M670.5 100V103M670.5 106V109M670.5 112V115M670.5 118V121M670.5 124V127M670.5 130V133M670.5 136V139M670.5 142V145M670.5 148V151M670.5 154V157M670.5 160V163M670.5 166V169M670.5 172V175M670.5 178V181M670.5 184V187M670.5 190V193M670.5 196V199M670.5 202V205M670.5 208V211M670.5 214V217M670.5 220V223M670.5 226V229M670.5 232V235M670.5 238V241M670.5 244V247M670.5 250V253M670.5 256V259M670.5 262V265M670.5 268V271M670.5 274V277M670.5 280V283M670.5 286V289M670.5 292V295M670.5 298V301M670.5 304V307M670.5 310V313M670.5 316V319M670.5 322V325M670.5 328V331M670.5 334V337M670.5 340V343M670.5 346V349M670.5 352V355M670.5 358V361M670.5 364V367M670.5 370V373M670.5 376V379M670.5 382V385M670.5 388V391M670.5 394V397M670.5 400V403M670.5 406V409M670.5 412V415M670.5 418V421M670.5 424V427M670.5 430V433M670.5 436V439M670.5 442V445M670.5 448V451M670.5 454V457" stroke="#000" stroke-width="1" fill="none" shape-rendering="crispEdges"/>
<path d="M40.5 460V463M70.5 460V463M100.5 460V463M130.5 460V463M160.5 460V463M190.5 460V463M220.5 460V463M250.5 460V463M280.5 460V463M310.5 460V463M340.5 460V463M370.5 460V463M400.5 460V463M430.5 460V463M460.5 460V463M490.5 460V463M520.5 460V463M550.5 460V463M580.5 460V463M610.5 460V463M640.5 460V463M670.5 460V463M700.5 460V463M730.5 460V463M760.5 460V463" stroke="#000" stroke-width="1" fill="none" shape-rendering="crispEdges"/>
<path d="M40.5 40.5H760.5V460.5H40.5Z" stroke="#000" stroke-width="1" fill="none" shape-rendering="crispEdges"/>
<polyline points="40.5,196.5 45.5,189.5 50.5,201.5 55.5,163.5 60.5,222.5 65.5,144.5 70.5,223.5 75.5,185.5 80.5,169.5 85.5,171.5 90.5,241.5 95.5,211.5 100.5,216.5 105.5,168.5 110.5,192.5 115.5,204.5 120.5,245.5 125.5,226.5 130.5,209.5 135.5,210.5 140.5,227.5 145.5,212.5 150.5,219.5 155.5,220.5 160.5,250.5 165.5,240.5 170.5,152.5 175.5,236.5 180.5,162.5 185.5,204.5 190.5,135.5 195.5,59.5 200.5,203.5 205.5,215.5 210.5,193.5 215.5,216.5 220.5,213.5 225.5,228.5 230.5,223.5 235.5,280.5 240.5,242.5 245.5,261.5 250.5,242.5 255.5,253.5 260.5,241.5 265.5,214.5 270.5,220.5 275.5,201.5 280.5,200.5 285.5,215.5 290.5,211.5 295.5,244.5 300.5,233.5 305.5,207.5 310.5,228.5 315.5,228.5 320.5,204.5 325.5,253.5 330.5,172.5 335.5,178.5 340.5,184.5 345.5,222.5 350.5,170.5 355.5,154.5 360.5,228.5 365.5,220.5 370.5,233.5 375.5,257.5 380.5,204.5 385.5,152.5 390.5,172.5 395.5,269.5 400.5,192.5 405.5,213.5 410.5,216.5 415.5,263.5 420.5,250.5 425.5,257.5 430.5,185.5 435.5,226.5 440.5,242.5 445.5,287.5 450.5,215.5 455.5,263.5 460.5,248.5 465.5,242.5 470.5,208.5 475.5,211.5 480.5,202.5 485.5,216.5 490.5,264.5 495.5,227.5 500.5,298.5 505.5,307.5 510.5,266.5 515.5,239.5 520.5,225.5 525.5,248.5 530.5,301.5 535.5,315.5 540.5,313.5 545.5,319.5 550.5,303.5 555.5,271.5 560.5,241.5 565.5,311.5 570.5,309.5 575.5,284.5 580.5,253.5 585.5,353.5 590.5,441.5 595.5,395.5 600.5,381.5 605.5,342.5 610.5,359.5 615.5,317.5 620.5,333.5 625.5,300.5 630.5,342.5 635.5,337.5 640.5,353.5 645.5,372.5 650.5,352.5 655.5,365.5 660.5,382.5 665.5,405.5 670.5,364.5 675.5,395.5 680.5,394.5 685.5,367.5 690.5,384.5 695.5,396.5 700.5,374.5 705.5,345.5 710.5,369.5 715.5,347.5 720.5,367.5 725.5,361.5 730.5,398.5 735.5,416.5 740.5,424.5 745.5,401.5 750.5,404.5 755.5,416.5" stroke="#0000ff" stroke-width="1" fill="none" shape-rendering="crispEdges"/>
</svg>
<div id="unit">km/h</div>
<div class="yl" style="top:58px">24,0</div><div class="yl" style="top:81px">23,0</div><div class="yl" style="top:103px">22,0</div><div class="yl" style="top:126px">21,0</div><div class="yl" style="top:148px">20,0</div><div class="yl" style="top:171px">19,0</div><div class="yl" style="top:193px">18,0</div><div class="yl" style="top:216px">17,0</div><div class="yl" style="top:238px">16,0</div><div class="yl" style="top:261px">15,0</div><div class="yl" style="top:283px">14,0</div><div class="yl" style="top:306px">13,0</div><div class="yl" style="top:328px">12,0</div><div class="yl" style="top:350px">11,0</div><div class="yl" style="top:373px">10,0</div><div class="yl" style="top:395px">9,0</div><div class="yl" style="top:418px">8,0</div><div class="yl" style="top:440px">7,0</div>
<div class="xl" style="left:0px">00:00<br>19/01/26</div><div class="xl" style="left:90px">03:00<br>19/01/26</div><div class="xl" style="left:180px">06:00<br>19/01/26</div><div class="xl" style="left:270px">09:00<br>19/01/26</div><div class="xl" style="left:360px">12:00<br>19/01/26</div><div class="xl" style="left:450px">15:00<br>19/01/26</div><div class="xl" style="left:540px">18:00<br>19/01/26</div><div class="xl" style="left:630px">21:00<br>19/01/26</div><div class="xl" style="left:720px">00:00<br>20/01/26</div>
</body></html>
